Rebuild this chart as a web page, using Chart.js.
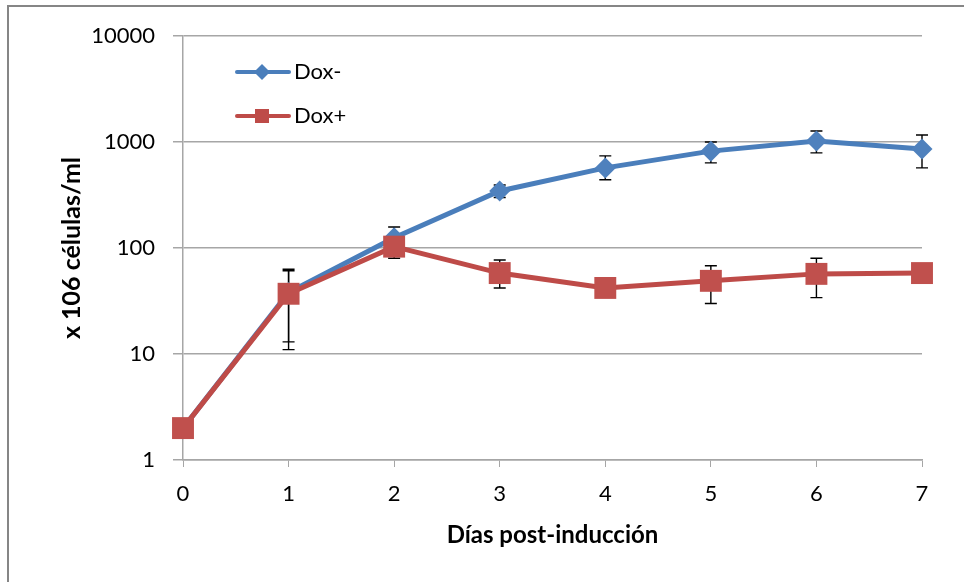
<!DOCTYPE html>
<html>
<head>
<meta charset="utf-8">
<script src="https://cdn.jsdelivr.net/npm/chart.js@4.4.1/dist/chart.umd.min.js"></script>
<style>
  html, body { margin: 0; padding: 0; background: #fff; }
  canvas { display: block; }
</style>
</head>
<body>
<canvas id="chart" width="964" height="582"></canvas>
<script>
// Data
const days = [0, 1, 2, 3, 4, 5, 6, 7];
const doxMinus = [2, 38, 125, 345, 570, 820, 1020, 860];
const doxMinusLow = [2, 11, 100, 300, 440, 635, 790, 570];
const doxMinusHigh = [2, 63, 158, 393, 740, 1000, 1270, 1165];
const doxPlus = [2, 37, 103, 58, 42, 49, 57, 58];
const doxPlusLow = [2, 13, 80, 42, 42, 30, 34, 58];
const doxPlusHigh = [2, 61, 125, 77, 42, 68, 80, 58];
const yTicks = [1, 10, 100, 1000, 10000];

const FONT = 'Lato, "Liberation Sans", sans-serif';
const BLUE = '#4A7EBB';
const RED = '#BE4B48';
const GRID = '#A6A6A6';

function toPoints(vals) {
  return days.map((d, i) => ({ x: d, y: vals[i] }));
}

// error bars, drawn under the markers
const errorSets = [
  { low: doxMinusLow, high: doxMinusHigh },
  { low: doxPlusLow, high: doxPlusHigh }
];

const errorBars = {
  id: 'errorBars',
  beforeDatasetsDraw(chart) {
    const { ctx, scales: { x, y } } = chart;
    ctx.save();
    ctx.strokeStyle = '#000';
    ctx.lineWidth = 1.4;
    errorSets.forEach(e => {
      days.forEach((d, i) => {
        const px = x.getPixelForValue(d);
        const yl = y.getPixelForValue(e.low[i]);
        const yh = y.getPixelForValue(e.high[i]);
        if (Math.abs(yl - yh) < 1) return;
        ctx.beginPath();
        ctx.moveTo(px, yl); ctx.lineTo(px, yh);
        ctx.moveTo(px - 6, yl); ctx.lineTo(px + 6, yl);
        ctx.moveTo(px - 6, yh); ctx.lineTo(px + 6, yh);
        ctx.stroke();
      });
    });
    ctx.restore();
  }
};

// legend inside the plot + outer frame
const extras = {
  id: 'extras',
  afterDraw(chart) {
    const ctx = chart.ctx;
    ctx.save();
    ctx.strokeStyle = '#868686';
    ctx.lineWidth = 2;
    ctx.strokeRect(8, 6, 1000, 1000);

    const items = [
      { label: 'Dox-', color: BLUE, shape: 'diamond', y: 72 },
      { label: 'Dox+', color: RED, shape: 'square', y: 116 }
    ];
    items.forEach(it => {
      ctx.strokeStyle = it.color;
      ctx.lineWidth = 4;
      ctx.lineCap = 'round';
      ctx.beginPath();
      ctx.moveTo(237, it.y); ctx.lineTo(289, it.y);
      ctx.stroke();
      ctx.fillStyle = it.color;
      ctx.beginPath();
      if (it.shape === 'diamond') {
        ctx.moveTo(262, it.y - 8); ctx.lineTo(270, it.y);
        ctx.lineTo(262, it.y + 8); ctx.lineTo(254, it.y);
        ctx.closePath();
      } else {
        ctx.rect(255, it.y - 7, 14, 14);
      }
      ctx.fill();
      ctx.fillStyle = '#000';
      ctx.font = '22px ' + FONT;
      ctx.textBaseline = 'middle';
      ctx.fillText(it.label, 294, it.y);
    });
    ctx.restore();
  }
};

new Chart(document.getElementById('chart'), {
  type: 'line',
  data: {
    datasets: [
      {
        label: 'Dox-',
        data: toPoints(doxMinus),
        borderColor: BLUE,
        backgroundColor: '#4F81BD',
        borderWidth: 5,
        pointStyle: 'rectRot',
        pointRadius: 10.5,
        pointBorderWidth: 0,
        clip: false,
        order: 1
      },
      {
        label: 'Dox+',
        data: toPoints(doxPlus),
        borderColor: RED,
        backgroundColor: '#C0504D',
        borderWidth: 5,
        pointStyle: 'rect',
        pointRadius: 15.5,
        pointBorderWidth: 0,
        clip: false,
        order: 0
      }
    ]
  },
  options: {
    responsive: false,
    animation: false,
    layout: { padding: { top: 36, right: 42, left: 0, bottom: 0 } },
    plugins: {
      legend: { display: false },
      tooltip: { enabled: false }
    },
    scales: {
      x: {
        type: 'linear',
        min: 0,
        max: 7,
        ticks: { stepSize: 1, color: '#000', font: { family: FONT, size: 22 }, padding: 14 },
        grid: { drawOnChartArea: false, tickLength: 7, color: GRID },
        border: { color: GRID, width: 1.5 },
        title: {
          display: true,
          text: 'Días post-inducción',
          color: '#000',
          font: { family: FONT, size: 24, weight: 'bold' },
          padding: { top: 0, bottom: 32 }
        },
        afterFit(s) { s.height = 122; }
      },
      y: {
        type: 'logarithmic',
        min: 1,
        max: 10000,
        afterBuildTicks(s) { s.ticks = yTicks.map(v => ({ value: v })); },
        ticks: {
          color: '#000',
          font: { family: FONT, size: 22 },
          padding: 18,
          callback: v => String(v)
        },
        grid: { color: GRID, lineWidth: 1.5, tickLength: 10 },
        border: { color: GRID, width: 1.5 },
        title: {
          display: true,
          text: 'x 106 células/ml',
          color: '#000',
          font: { family: FONT, size: 25, weight: 'bold' },
          padding: { top: 57, bottom: 0 }
        },
        afterFit(s) { s.width = 183; }
      }
    }
  },
  plugins: [errorBars, extras]
});
</script>
</body>
</html>
